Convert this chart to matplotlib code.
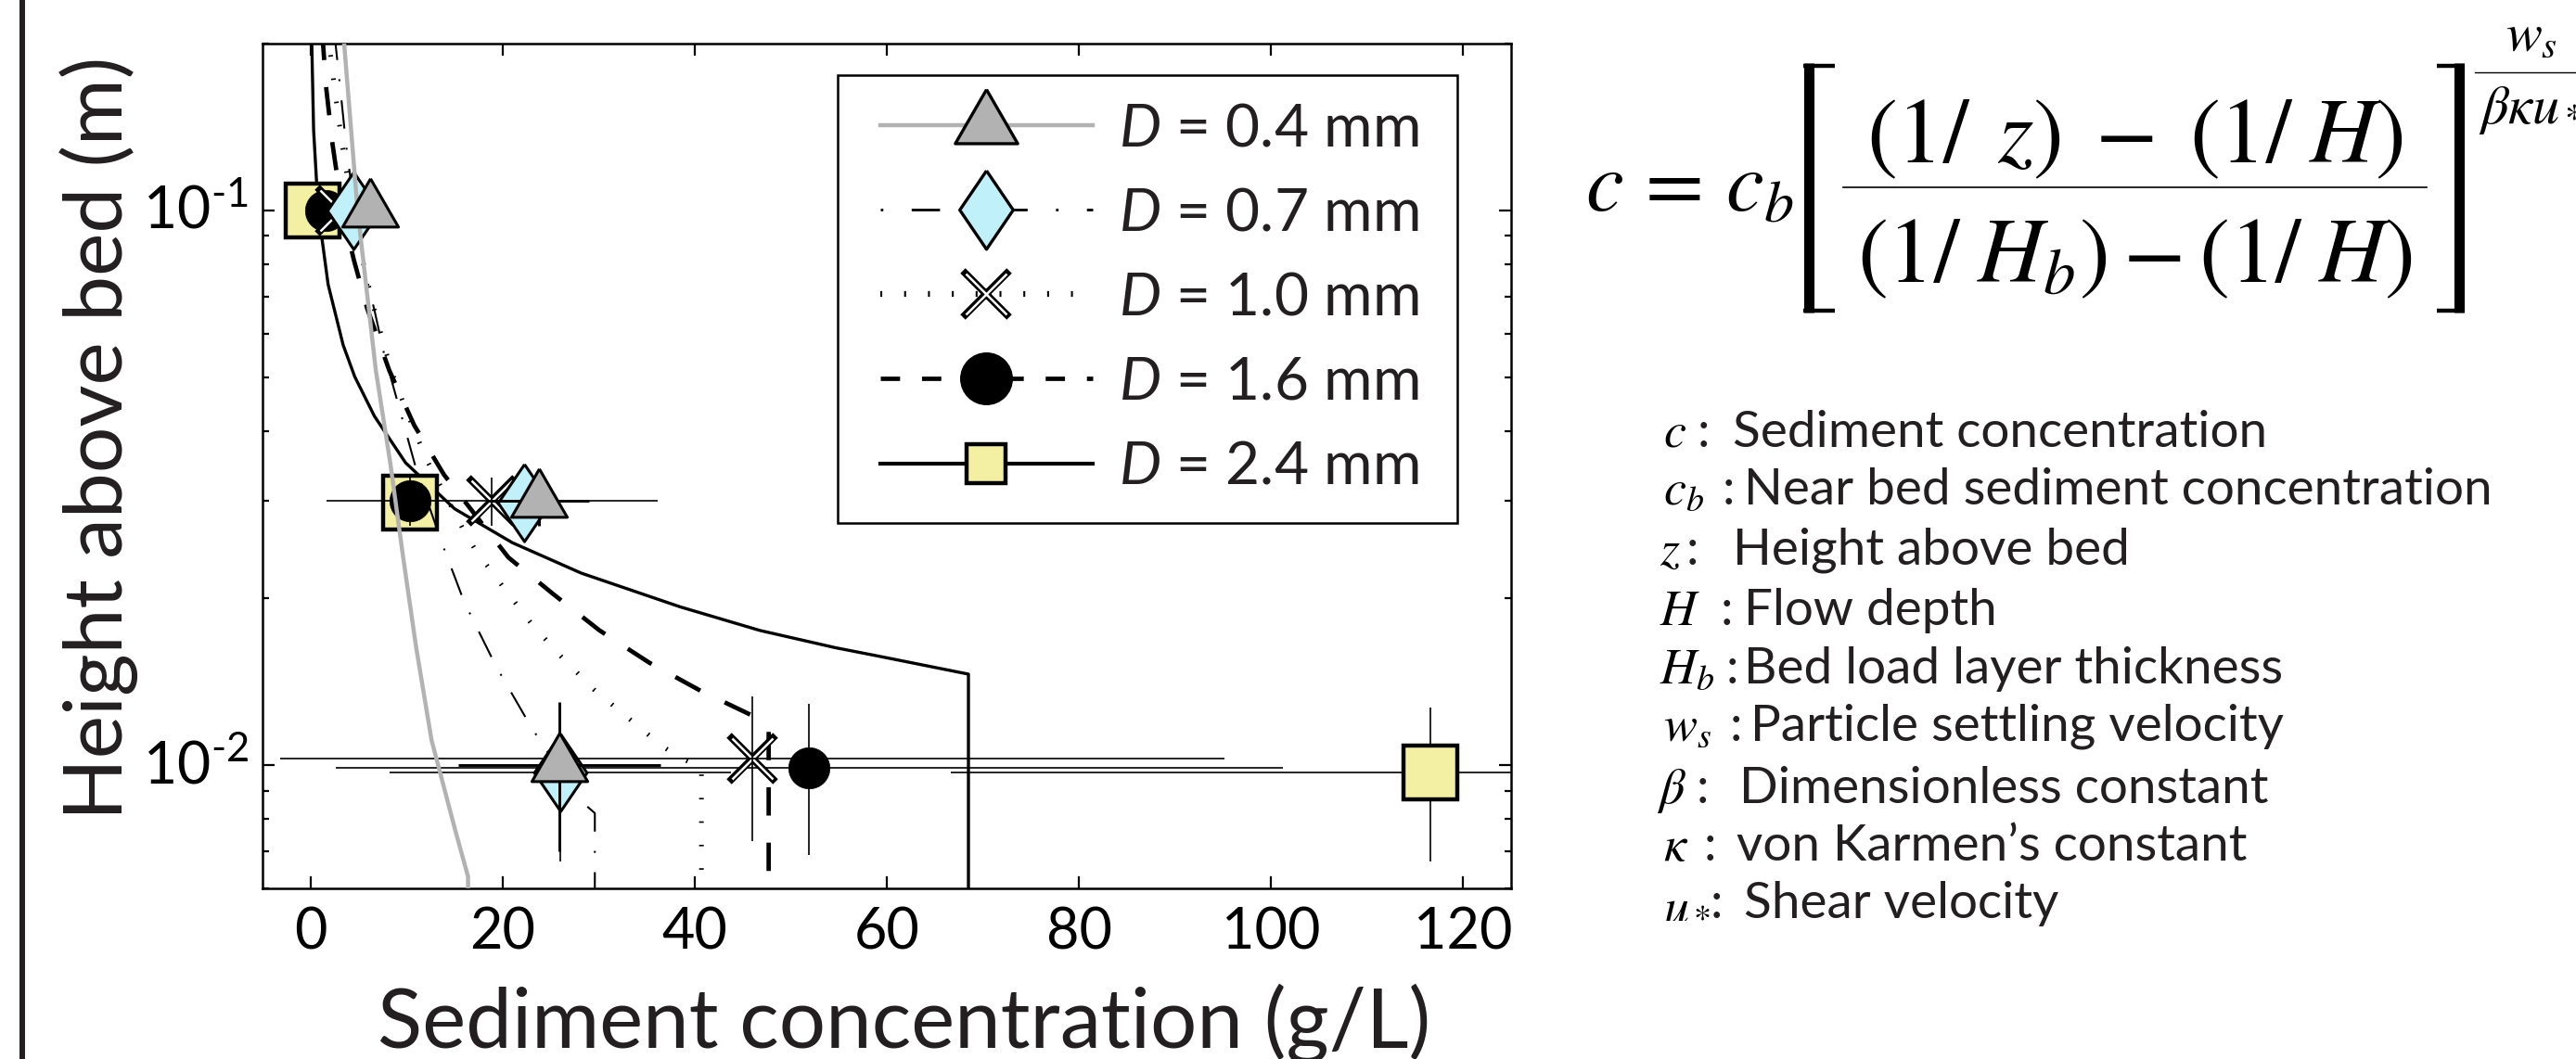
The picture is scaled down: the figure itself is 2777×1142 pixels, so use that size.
import numpy as np
import matplotlib
matplotlib.use('Agg')
import matplotlib.pyplot as plt
from matplotlib.lines import Line2D
from matplotlib.patches import Rectangle
from matplotlib.legend_handler import HandlerTuple
from matplotlib.markers import MarkerStyle
from matplotlib.transforms import ScaledTranslation
import matplotlib.ticker as mticker

plt.rcParams['font.family'] = ['Lato', 'DejaVu Sans']
plt.rcParams['mathtext.fontset'] = 'custom'
plt.rcParams['mathtext.rm'] = 'Lato'
plt.rcParams['mathtext.it'] = 'Lato:italic'
plt.rcParams['mathtext.bf'] = 'Lato:bold'
plt.rcParams['lines.scale_dashes'] = False
TXT = '#231f20'
plt.rcParams['text.color'] = TXT

# ---------------- data ----------------
labels = [r'$\mathit{D}$ = 0.4 mm', r'$\mathit{D}$ = 0.7 mm', r'$\mathit{D}$ = 1.0 mm',
          r'$\mathit{D}$ = 1.6 mm', r'$\mathit{D}$ = 2.4 mm']

# measured concentrations (g/L), heights (m), errors
meas_c_04 = [6.2, 23.8, 25.9]
meas_z_04 = [0.100, 0.0300, 0.0100]
meas_cerr_04 = [1.0, 5.2, 10.5]

meas_c_07 = [4.5, 22.2, 26.0]
meas_z_07 = [0.100, 0.0297, 0.0097]
meas_cerr_07 = [1.0, 2.0, 17.8]

meas_c_10 = [3.1, 18.9, 46.0]
meas_z_10 = [0.100, 0.0300, 0.0103]
meas_cerr_10 = [1.0, 17.2, 49.2]

meas_c_16 = [1.6, 10.4, 51.9]
meas_z_16 = [0.100, 0.0300, 0.0099]
meas_cerr_16 = [0.5, 1.5, 49.3]

meas_c_24 = [0.2, 10.4, 116.6]
meas_z_24 = [0.100, 0.0297, 0.0097]
meas_cerr_24 = [0.5, 2.0, 49.9]

meas_zerr = [0.003, 0.003, 0.003]

# model profiles
model_z_04 = [0.21, 0.2, 0.1, 0.0756, 0.0515, 0.0351, 0.0240, 0.0163, 0.0111, 0.0076, 0.0063, 0.005]
model_c_04 = [3.4, 3.5, 4.9, 5.7, 6.8, 8.3, 9.6, 11.0, 12.6, 15.1, 16.4, 16.4]

model_z_07 = [0.21, 0.2, 0.1658, 0.1313, 0.1, 0.0736, 0.0656, 0.0557, 0.0437, 0.0342,
              0.0251, 0.0197, 0.0151, 0.0117, 0.0087, 0.0082, 0.005]
model_c_07 = [2.5, 2.6, 3.1, 3.7, 4.6, 6.0, 6.7, 7.6, 9.3, 11.0,
              13.7, 16.0, 19.3, 23.0, 27.9, 29.6, 29.6]

model_z_10 = [0.21, 0.2, 0.1658, 0.1313, 0.1, 0.0816, 0.0656, 0.0515, 0.0443, 0.0355, 0.0283,
              0.0262, 0.0241, 0.0223, 0.0208, 0.0180, 0.0157, 0.0137, 0.0122, 0.0108, 0.0103,
              0.0099, 0.005]
model_c_10 = [1.8, 1.95, 2.5, 3.3, 4.4, 5.4, 6.7, 8.4, 9.8, 12.1, 15.1,
              16.1, 17.4, 18.9, 20.2, 23.0, 26.1, 29.5, 33.0, 36.7, 38.6,
              40.7, 40.7]

model_z_16 = [0.21, 0.2, 0.1658, 0.1313, 0.1, 0.0816, 0.0666, 0.0515, 0.0410, 0.0334,
              0.0237, 0.0204, 0.0175, 0.0153, 0.0136, 0.0122, 0.0117, 0.005]
model_c_16 = [1.2, 1.3, 1.64, 2.3, 3.3, 4.5, 5.9, 8.2, 10.8, 13.9,
              20.6, 25.2, 30.1, 35.3, 40.7, 46.4, 47.7, 47.7]

model_z_24 = [0.21, 0.2, 0.1396, 0.1, 0.0736, 0.0572, 0.0502, 0.0426, 0.0351, 0.029,
              0.0252, 0.0222, 0.0193, 0.0175, 0.0163, 0.0157, 0.0146, 0.005]
model_c_24 = [0.08, 0.13, 0.32, 0.8, 1.83, 3.4, 4.6, 6.65, 9.9, 15.0,
              21.0, 28.2, 38.5, 46.8, 54.6, 59.4, 68.5, 68.5]

x_ticks = [0, 20, 40, 60, 80, 100, 120]
y_ticks = [0.01, 0.1]
y_ticklabels = [r'$\mathdefault{10^{\text{-}2}}$', r'$\mathdefault{10^{\text{-}1}}$']

# ---------------- styles ----------------
W, H = 2777, 1142
fig = plt.figure(figsize=(W / 100, H / 100), dpi=100)
ax = fig.add_axes([283 / W, 1 - 958 / H, (1629 - 283) / W, (958 - 47) / H])

def fx(px):
    return px / W

def fy(py):
    return 1 - py / H

GRAY = '#b2b2b2'
CYAN = '#c0f1fb'
YELLOW = '#f3f0a3'

tri = MarkerStyle([(0, 2 / 3), (-1 / np.sqrt(3), -1 / 3), (1 / np.sqrt(3), -1 / 3), (0, 2 / 3)],
                  joinstyle='miter')
dia = MarkerStyle([(0, 1), (0.68, 0), (0, -1), (-0.68, 0), (0, 1)], joinstyle='miter')

ls_dashdot = (0, (22, 15, 1.5, 15))
ls_dot = (0, (1.2, 17))
ls_dash = (0, (22, 21))

series = [
    dict(mc=model_c_24, mz=model_z_24, c=meas_c_24, z=meas_z_24, e=meas_cerr_24,
         line=dict(color='k', lw=2.4, linestyle='-'),
         mk=dict(marker='s', ms=42, mfc=YELLOW, mec='k', mew=3.2), elw=1.2),
    dict(mc=model_c_16, mz=model_z_16, c=meas_c_16, z=meas_z_16, e=meas_cerr_16,
         line=dict(color='k', lw=3.4, linestyle=ls_dash, dash_capstyle='butt'),
         mk=dict(marker='o', ms=32, mfc='k', mec='k', mew=0.5), elw=1.2),
    dict(mc=model_c_10, mz=model_z_10, c=meas_c_10, z=meas_z_10, e=meas_cerr_10,
         line=dict(color='k', lw=3.6, linestyle=ls_dot, dash_capstyle='butt'),
         mk=None, elw=1.2),
    dict(mc=model_c_07, mz=model_z_07, c=meas_c_07, z=meas_z_07, e=meas_cerr_07,
         line=dict(color='k', lw=1.5, linestyle=ls_dashdot, dash_capstyle='butt'),
         mk=dict(marker=dia, ms=60, mfc=CYAN, mec='k', mew=2.2), elw=1.2),
    dict(mc=model_c_04, mz=model_z_04, c=meas_c_04, z=meas_z_04, e=meas_cerr_04,
         line=dict(color=GRAY, lw=3.2, linestyle='-'),
         mk=dict(marker=tri, ms=50, mfc=GRAY, mec='k', mew=2.2), elw=2.1),
]

zo = 2
for s in series:
    ax.plot(s['mc'], s['mz'], zorder=zo, **s['line'])
    if s['mk'] is None:
        # double-line X marker: black x, white x, then error bars on top
        ax.plot(s['c'], s['z'], linestyle='none', marker='x', ms=36, mec='k', mew=5.6,
                zorder=zo + 1)
        ax.plot(s['c'], s['z'], linestyle='none', marker='x', ms=32, mec='white', mew=1.8,
                zorder=zo + 1)
        ax.errorbar(s['c'], s['z'], xerr=s['e'], yerr=meas_zerr, fmt='none', ecolor='k',
                    elinewidth=s['elw'], capsize=0, zorder=zo + 1)
    else:
        ax.errorbar(s['c'], s['z'], xerr=s['e'], yerr=meas_zerr, fmt='none', ecolor='k',
                    elinewidth=s['elw'], capsize=0, zorder=zo + 1)
        ax.plot(s['c'], s['z'], linestyle='none', zorder=zo + 1, **s['mk'])
    zo += 2

# ---------------- axes ----------------
ax.set_yscale('log')
ax.set_xlim(-5, 125)
ax.set_ylim(0.006, 0.2)
ax.xaxis.set_major_locator(mticker.FixedLocator(x_ticks))
ax.yaxis.set_major_locator(mticker.FixedLocator(y_ticks))
ax.yaxis.set_major_formatter(mticker.FixedFormatter(y_ticklabels))
ax.yaxis.set_minor_locator(mticker.LogLocator(base=10, subs=np.arange(2, 10), numticks=20))
ax.yaxis.set_minor_formatter(mticker.NullFormatter())
ax.xaxis.set_minor_locator(mticker.NullLocator())
ax.tick_params(which='both', direction='in', top=True, right=True, width=1.6, colors='k',
               labelcolor='k')
ax.tick_params(which='major', length=9.5)
ax.tick_params(axis='x', which='major', labelsize=44, pad=14)
ax.tick_params(axis='y', which='major', labelsize=45, pad=11)
ax.tick_params(which='minor', length=5)
for sp in ax.spines.values():
    sp.set_linewidth(1.8)

ax.set_xlabel('Sediment concentration (g/L)', fontsize=64, color=TXT)
ax.xaxis.set_label_coords((975 - 283) / 1346, (958 - 1130) / 911)
ax.xaxis.label.set_va('baseline')
ax.set_ylabel('Height above bed (m)', fontsize=63, color=TXT)
ax.yaxis.set_label_coords((64 - 283) / 1346, (958 - 472) / 911)
ax.yaxis.label.set_rotation_mode('default')
ax.yaxis.label.set_ha('left')
ax.yaxis.label.set_va('center')

# ---------------- legend ----------------
leg_handles = [
    Line2D([], [], color=GRAY, lw=3.2, marker=tri, ms=56, mfc=GRAY, mec='k', mew=2.4),
    Line2D([], [], color='k', lw=2.0, linestyle=(0, (2, 22, 22, 22)), dash_capstyle='butt',
           marker=dia, ms=61, mfc=CYAN, mec='k', mew=2.4),
    (Line2D([], [], color='k', lw=4.5, linestyle=(0, (1.5, 17)), dash_capstyle='butt',
            marker='x', ms=36, mec='k', mew=5.6),
     Line2D([], [], linestyle='none', marker='x', ms=32, mec='white', mew=1.8)),
    Line2D([], [], color='k', lw=3.4, linestyle=(0, (15, 17)), dash_capstyle='butt',
           marker='o', ms=40, mfc='k', mec='k'),
    Line2D([], [], color='k', lw=3.0, marker='s', ms=30, mfc=YELLOW, mec='k', mew=3.2),
]
leg = ax.legend(leg_handles, labels, loc='upper left',
                bbox_to_anchor=((949 - 283) / 1346, (958 - 110) / 911),
                frameon=False, fontsize=46, handlelength=3.58, handletextpad=0.44,
                labelspacing=0.52, borderpad=0, borderaxespad=0,
                handler_map={tuple: HandlerTuple(ndivide=1, pad=0)})
leg.set_zorder(30)
for t in leg.get_texts():
    t.set_color(TXT)
ax.add_patch(Rectangle(((903 - 283) / 1346, (958 - 564) / 911), (1571 - 903) / 1346,
                       (564 - 81) / 911, transform=ax.transAxes, facecolor='white',
                       edgecolor='k', lw=1.8, zorder=29))

# y tick labels: the "10" sits on its tick
for lab in ax.yaxis.get_majorticklabels():
    lab.set_transform(lab.get_transform() + ScaledTranslation(0, 5 / 100, fig.dpi_scale_trans))

# ---------------- left frame line ----------------
fig.add_artist(Line2D([fx(24), fx(24)], [0, 1], transform=fig.transFigure, color='#231f20',
                      lw=4.3))

# ---------------- equation ----------------
eq = dict(math_fontfamily='stix', color='k')
fig.text(fx(1709), fy(227), r'$c\,=\,c_b$', fontsize=66, ha='left', va='baseline', **eq)
fig.text(fx(2301), fy(175), r'$(1/\;\,z)\;-\;(1/\;H)$', fontsize=71, ha='center', va='baseline', **eq)
fig.text(fx(2302), fy(304), r'$(1/\;H_b)-(1/\;H)$', fontsize=71, ha='center', va='baseline', **eq)
fig.add_artist(Line2D([fx(1987), fx(2616)], [fy(202), fy(202)], transform=fig.transFigure,
                      color='k', lw=1.2))
# brackets
for xv, xa0, xa1 in [(1950, 1944, 1978), (2651, 2627, 2657)]:
    fig.add_artist(Line2D([fx(xv), fx(xv)], [fy(68), fy(337)], transform=fig.transFigure,
                          color='k', lw=8, solid_capstyle='butt'))
    for ya in (70.5, 334.5):
        fig.add_artist(Line2D([fx(xa0), fx(xa1)], [fy(ya), fy(ya)], transform=fig.transFigure,
                              color='k', lw=3.2, solid_capstyle='butt'))
fig.text(fx(2729), fy(55), r'$w_s$', fontsize=42, ha='center', va='baseline', **eq)
fig.add_artist(Line2D([fx(2668), fx(2800)], [fy(78), fy(78)], transform=fig.transFigure,
                      color='k', lw=1.0))
fig.text(fx(2672), fy(133), r'$\beta\kappa u_*$', fontsize=42, ha='left', va='baseline', **eq)

# ---------------- definitions ----------------
def_symbols = [r'$c$', r'$c_b$', r'$z$', r'$H$', r'$H_b$', r'$w_s$', r'$\beta$', r'$\kappa$', r'$u_*$']
def_texts = ['Sediment concentration', 'Near bed sediment concentration', 'Height above bed',
             'Flow depth', 'Bed load layer thickness', 'Particle settling velocity',
             'Dimensionless constant', 'von Karmen\u2019s constant', 'Shear velocity']
sym_x = [1793, 1793, 1789, 1789, 1789, 1793, 1786, 1793, 1793]
colon_x = [1830, 1857, 1818, 1855, 1861, 1865, 1829, 1837, 1844]
text_x = [1868, 1880, 1868, 1880, 1880, 1887, 1875, 1872, 1880]
base_y = [482, 544, 609, 674, 737, 799, 866, 928, 990]
for sym, txt, sx, cx, tx, by in zip(def_symbols, def_texts, sym_x, colon_x, text_x, base_y):
    fig.text(fx(sx), fy(by), sym, fontsize=39, ha='left', va='baseline', **eq)
    fig.text(fx(cx), fy(by), ':', fontsize=39, ha='left', va='baseline', color=TXT)
    fig.text(fx(tx), fy(by), txt, fontsize=39.5, ha='left', va='baseline', color=TXT)

fig.savefig('out.png', dpi=100)
